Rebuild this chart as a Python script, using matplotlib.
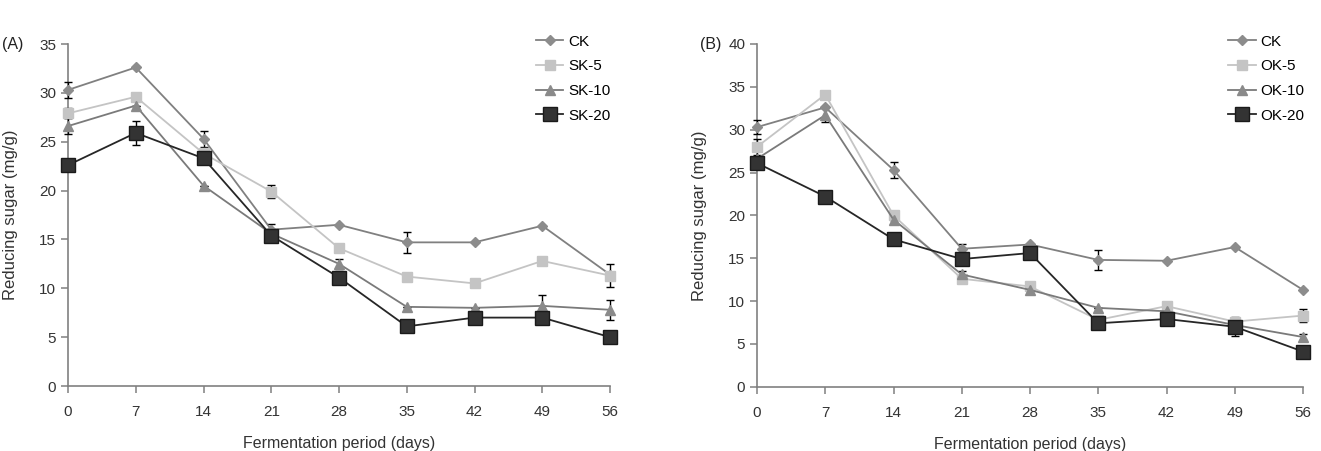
import numpy as np
import matplotlib.pyplot as plt

plt.rcParams['font.family'] = ['Liberation Sans', 'DejaVu Sans']

days = [0, 7, 14, 21, 28, 35, 42, 49, 56]

# Panel A - reducing sugar (mg/g)
a_labels = ['CK', 'SK-5', 'SK-10', 'SK-20']
a_ck = [30.3, 32.6, 25.3, 16.0, 16.5, 14.7, 14.7, 16.4, 11.4]
a_sk5 = [27.9, 29.6, 23.8, 19.9, 14.1, 11.2, 10.5, 12.8, 11.3]
a_sk10 = [26.6, 28.7, 20.5, 15.6, 12.5, 8.1, 8.0, 8.2, 7.8]
a_sk20 = [22.6, 25.9, 23.3, 15.4, 11.1, 6.1, 7.0, 7.0, 5.0]
a_ck_err = [0.8, 0.0, 0.8, 0.6, 0.0, 1.1, 0.0, 0.0, 0.0]
a_sk5_err = [0.5, 0.0, 0.0, 0.7, 0.4, 0.0, 0.0, 0.0, 1.2]
a_sk10_err = [0.8, 0.0, 0.0, 0.0, 0.5, 0.0, 0.0, 1.1, 1.0]
a_sk20_err = [0.0, 1.2, 0.0, 0.7, 0.0, 0.0, 0.6, 0.0, 0.0]

# Panel B
b_labels = ['CK', 'OK-5', 'OK-10', 'OK-20']
b_ck = [30.3, 32.6, 25.3, 16.1, 16.6, 14.8, 14.7, 16.3, 11.3]
b_ok5 = [28.0, 34.1, 20.0, 12.6, 11.7, 7.8, 9.4, 7.6, 8.3]
b_ok10 = [26.6, 31.7, 19.5, 13.1, 11.3, 9.2, 8.8, 7.2, 5.8]
b_ok20 = [26.1, 22.2, 17.2, 14.9, 15.6, 7.4, 7.9, 7.0, 4.1]
b_ck_err = [0.8, 0.0, 0.9, 0.6, 0.0, 1.2, 0.0, 0.0, 0.0]
b_ok5_err = [0.9, 0.0, 0.0, 0.0, 0.5, 0.0, 0.0, 0.0, 0.8]
b_ok10_err = [0.0, 0.8, 0.0, 0.4, 0.0, 0.0, 0.0, 0.0, 0.4]
b_ok20_err = [0.0, 0.7, 0.0, 0.0, 0.0, 0.0, 0.0, 1.1, 0.3]

styles = [
    dict(color='#808080', marker='D', ms=5.5, mfc='#8c8c8c', mec='#8c8c8c'),
    dict(color='#c4c4c4', marker='s', ms=6.5, mfc='#c4c4c4', mec='#c4c4c4'),
    dict(color='#7a7a7a', marker='^', ms=7, mfc='#8a8a8a', mec='#8a8a8a'),
    dict(color='#262626', marker='s', ms=9.5, mfc='#333333', mec='#1a1a1a'),
]


def draw_panel(ax, series, errs, labels, ymax, ystep, tag, tag_dx):
    for vals, err, lab, st in zip(series, errs, labels, styles):
        ax.errorbar(days, vals, yerr=err, color=st['color'], lw=1.3,
                    marker=st['marker'], ms=st['ms'], mfc=st['mfc'], mec=st['mec'],
                    ecolor='black', elinewidth=1.0, capsize=3, capthick=1.0,
                    label=lab, clip_on=False, zorder=3)
    ax.set_xlim(0, 56)
    ax.set_ylim(0, ymax)
    ax.set_xticks(days)
    ax.set_yticks(np.arange(0, ymax + 1, ystep))
    for s in ['top', 'right']:
        ax.spines[s].set_visible(False)
    for s in ['left', 'bottom']:
        ax.spines[s].set_color('#808080')
        ax.spines[s].set_linewidth(1.2)
    ax.tick_params(colors='#808080', labelcolor='#333333', labelsize=11,
                   length=5, width=1.1, direction='out')
    ax.tick_params(axis='x', pad=9)
    ax.set_xlabel('Fermentation period (days)', fontsize=11.5, color='#333333', labelpad=12)
    ax.set_ylabel('Reducing sugar (mg/g)', fontsize=12, color='#333333', labelpad=15)
    ax.annotate(tag, xy=(0, 1), xycoords='axes fraction', xytext=(tag_dx, 0),
                textcoords='offset points', ha='right', va='center',
                fontsize=11.5, color='#222222')
    handles, labs = ax.get_legend_handles_labels()
    handles = [h[0] for h in handles]
    ax.legend(handles, labs, loc='upper left', bbox_to_anchor=(0.852, 1.045),
              frameon=False, fontsize=11, handlelength=1.8, handletextpad=0.3,
              labelspacing=0.7, borderaxespad=0)


fig = plt.figure(figsize=(13.21, 4.51), dpi=100)
ax1 = fig.add_axes([68 / 1321, 65 / 451, 542 / 1321, 342 / 451])
ax2 = fig.add_axes([757 / 1321, 64.3 / 451, 546 / 1321, 342.7 / 451])

draw_panel(ax1, [a_ck, a_sk5, a_sk10, a_sk20],
           [a_ck_err, a_sk5_err, a_sk10_err, a_sk20_err], a_labels, 35, 5, '(A)', -32)
draw_panel(ax2, [b_ck, b_ok5, b_ok10, b_ok20],
           [b_ck_err, b_ok5_err, b_ok10_err, b_ok20_err], b_labels, 40, 5, '(B)', -26)

fig.savefig('out.png', dpi=100)
